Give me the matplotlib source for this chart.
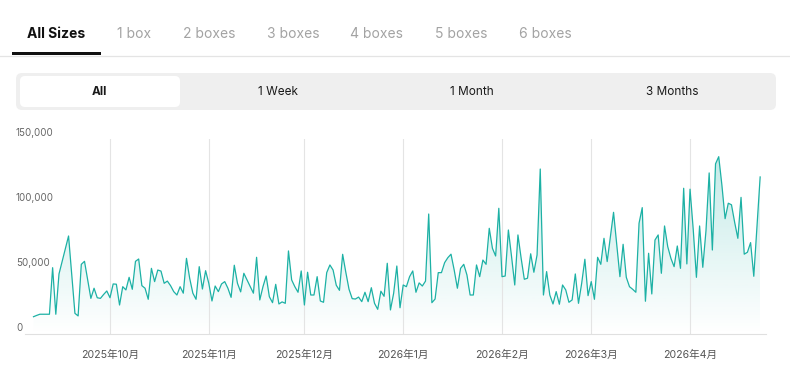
import numpy as np
import pandas as pd
import matplotlib
matplotlib.use('Agg')
import matplotlib.pyplot as plt
import matplotlib.dates as mdates
from matplotlib.patches import FancyBboxPatch, Rectangle
from matplotlib import transforms

plt.rcParams['font.family'] = ['Inter', 'Noto Sans CJK SC', 'DejaVu Sans']

# data (daily, from 2025-09-07)
start_date = '2025-09-07'
values = [
    13300, 14300, 15200, 15200, 15200, 15200, 51000, 15200, 46200, 55900, 65400, 75400,
    45400, 15900, 13900, 53600, 55900, 41400, 27400, 35200, 27900, 27400, 30400, 33100,
    27900, 38500, 38300, 22300, 36400, 33900, 43600, 34400, 55900, 57700, 37200, 35200,
    26700, 50500, 40300, 49200, 48400, 39000, 40700, 37200, 32600, 30000, 36400, 31400,
    58200, 42900, 31400, 26700, 51800, 34600, 48700, 39000, 25400, 36900, 32600, 38500,
    40300, 35200, 28200, 52900, 39000, 32400, 46700, 41600, 36400, 31400, 59000, 26200,
    36400, 44600, 28700, 24100, 38200, 23100, 24700, 23600, 63900, 41600, 36400, 32100,
    48500, 22300, 47500, 30000, 30000, 44100, 25400, 24400, 47200, 53100, 49200, 37500,
    33600, 61300, 47400, 34400, 27200, 26900, 28400, 24900, 32100, 24900, 35600, 23600,
    19000, 32900, 29000, 54400, 18500, 31300, 52300, 20200, 37700, 36400, 44100, 48500,
    32100, 39300, 36900, 40700, 92300, 24100, 26900, 47200, 47200, 54900, 58700, 61400,
    49200, 35200, 50500, 53600, 45400, 30000, 30000, 53100, 44100, 56900, 53600, 81300,
    65900, 60000, 96700, 44100, 44600, 80000, 59500, 37700, 76200, 58400, 42100, 42900,
    61700, 47500, 60800, 126900, 30000, 48000, 30000, 23100, 32600, 22900, 37700, 33900,
    24400, 26200, 46200, 23600, 39000, 57500, 29500, 40300, 26700, 59000, 53600, 73600,
    55700, 74900, 93600, 69200, 44100, 69000, 43600, 36400, 34400, 32100, 85200, 97200,
    25200, 62100, 30800, 72300, 76200, 46700, 83100, 67200, 58200, 51800, 67700, 50500,
    112100, 53900, 111400, 80400, 43600, 83100, 51300, 79400, 123900, 64600, 130900, 136400,
    114400, 88700, 100600, 99400, 85900, 73600, 105100, 61400, 62900, 70300, 44400, 82400, 120800,
]
month_starts = ['2025-10-01', '2025-11-01', '2025-12-01', '2026-01-01',
                '2026-02-01', '2026-03-01', '2026-04-01']
month_labels = ['2025年10月', '2025年11月', '2025年12月', '2026年1月',
                '2026年2月', '2026年3月', '2026年4月']
y_ticks = [0, 50000, 100000, 150000]
tabs = ['All Sizes', '1 box', '2 boxes', '3 boxes', '4 boxes', '5 boxes', '6 boxes']
ranges = ['All', '1 Week', '1 Month', '3 Months']

teal = '#1db1a5'

fig = plt.figure(figsize=(7.9, 3.8), dpi=100)

# UI layer in pixel coordinates
ui = fig.add_axes([0, 0, 1, 1])
ui.set_xlim(0, 790)
ui.set_ylim(380, 0)
ui.axis('off')

tab_x = [56.5, 134, 209, 293, 377, 461, 545]
for i, t in enumerate(tabs):
    ui.text(tab_x[i], 34, t, ha='center', va='center', fontsize=10,
            fontweight='bold' if i == 0 else 'normal',
            color='#111111' if i == 0 else '#a3a3a3')
ui.plot([0, 790], [55.5, 55.5], color='#e4e4e4', lw=0.9)
ui.add_patch(Rectangle((12, 52), 89, 3, color='#111111', lw=0))

ui.add_patch(FancyBboxPatch((16, 73), 760, 37, boxstyle='round,pad=0,rounding_size=6',
                            fc='#efefef', ec='none'))
ui.add_patch(FancyBboxPatch((20, 76), 160, 31, boxstyle='round,pad=0,rounding_size=5',
                            fc='white', ec='none'))
range_x = [99, 278, 472, 672]
for i, r in enumerate(ranges):
    ui.text(range_x[i], 92, r, ha='center', va='center', fontsize=8.5,
            fontweight='bold' if i == 0 else 'normal', color='#1a1a1a')

# chart
dates = pd.date_range(start_date, periods=len(values), freq='D')
ax = fig.add_axes([25 / 790, (380 - 334) / 380, 741 / 790, 195 / 380])
ax.patch.set_alpha(0)

x0 = mdates.date2num(pd.Timestamp('2025-09-04 08:00'))
x1 = mdates.date2num(pd.Timestamp('2026-04-24 20:00'))
xn = mdates.date2num(dates)

poly = ax.fill_between(xn, values, 0, color='none', lw=0)
grad = np.zeros((256, 1, 4))
grad[:, 0, 0:3] = matplotlib.colors.to_rgb(teal)
grad[:, 0, 3] = np.linspace(0.0, 0.26, 256)
img = ax.imshow(grad, extent=[xn[0], xn[-1], 0, max(values)], aspect='auto',
                origin='lower', zorder=1)
img.set_clip_path(poly.get_paths()[0], ax.transData)

ax.plot(xn, values, color=teal, lw=0.9, zorder=3)

ax.set_xlim(x0, x1)
ax.set_ylim(0, 150000)
ax.set_xticks(mdates.date2num(pd.to_datetime(month_starts)))
ax.set_xticklabels(month_labels, fontsize=7.6, color='#555555')
ax.tick_params(axis='x', length=0, pad=11)
ax.set_yticks([])
ax.grid(axis='x', color='#e4e4e4', lw=0.8, zorder=0)
for s in ['top', 'right', 'left']:
    ax.spines[s].set_visible(False)
ax.spines['bottom'].set_color('#e0e0e0')
ax.spines['bottom'].set_linewidth(0.8)

tr = transforms.blended_transform_factory(fig.transFigure, ax.transData) + \
    transforms.ScaledTranslation(0, 6 / 100, fig.dpi_scale_trans)
for v in y_ticks:
    ax.text(16 / 790, v, f'{v:,}', transform=tr, ha='left', va='center',
            fontsize=7, color='#666666')

fig.savefig('out.png', dpi=100)
